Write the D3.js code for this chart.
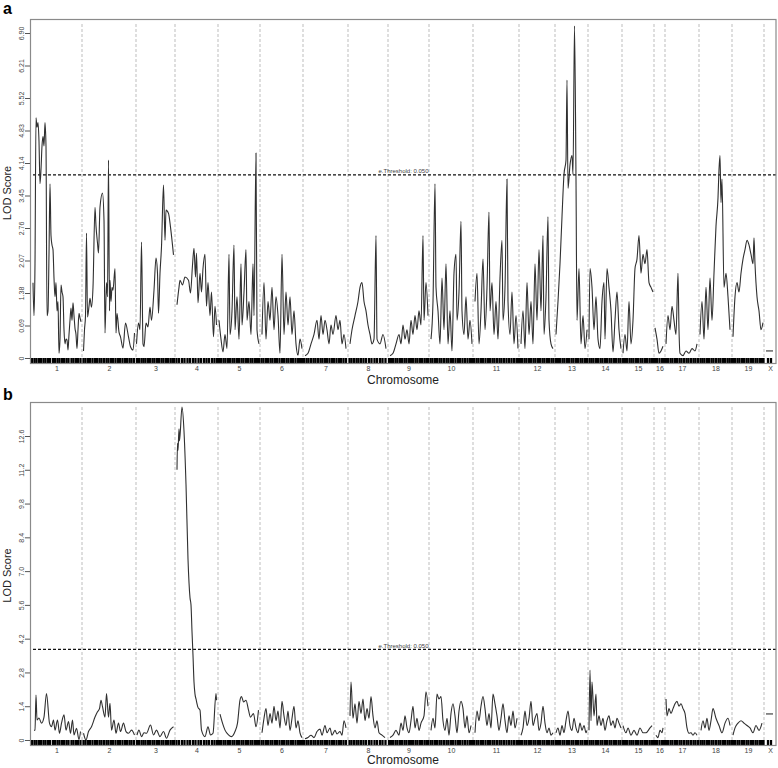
<!DOCTYPE html>
<html><head><meta charset="utf-8">
<script src="https://cdn.jsdelivr.net/npm/d3@7"></script>
<style>body{margin:0;background:#fff}svg{display:block}</style>
</head><body>
<svg id="chart" width="778" height="768"></svg>
<script>
// ---------- DATA ----------
const chrNames = ["1","2","3","4","5","6","7","8","9","10","11","12","13","14","15","16","17","18","19","X"];
const chrLengths = [102,108,78,86,84,86,90,80,82,88,92,72,66,68,64,22,68,66,64,24]; // cM

const markers = [
 [2,7,11,16,20,25,29,34,38,44,48,53,57,62,66,71,75,81,85,90,94,99],
 [3,7,12,16,21,26,30,35,39,44,49,53,58,62,67,72,76,81,86,90,95,99,104],
 [2,6,11,15,19,24,28,33,37,42,46,51,55,60,64,69,73,76],
 [3,8,14,19,25,30,36,41,47,52,58,63,68,74,79,84],
 [2,6,11,15,20,24,29,33,38,42,47,51,56,60,65,69,74,78,82],
 [3,7,12,16,21,25,30,34,39,44,48,53,57,62,66,71,76,80,84],
 [2,7,11,16,21,25,30,35,39,44,48,53,58,62,67,72,76,81,86],
 [3,7,12,17,21,26,31,36,42,47,53,58,64,69,75],
 [2,6,10,15,19,24,28,33,37,42,46,50,55,59,64,68,73,77,80],
 [3,7,12,16,21,25,30,35,39,44,48,53,58,62,67,72,77,82,86],
 [2,7,11,16,20,25,30,34,39,43,48,53,57,62,67,72,77,82,87,90],
 [2,6,11,15,20,24,29,33,38,42,47,51,56,60,65,69],
 [2,6,10,15,19,24,28,33,37,42,46,51,55,60,64],
 [3,7,11,16,20,25,29,34,38,43,47,52,56,61,65],
 [2,6,10,15,19,23,28,32,37,41,46,50,55,59,62],
 [2,6,11,16,20],
 [2,6,11,15,20,24,29,33,38,43,47,52,57,61,66],
 [3,7,11,16,20,25,29,34,39,43,48,52,57,61,65],
 [2,6,11,15,20,24,29,33,38,42,47,51,56,60,63],
 [8,14]
];

// Panel a: [position within chromosome (cM), LOD]
const lodA = [
 [[4,1.6],[6,0.9],[8,2.0],[10,5.1],[12,4.9],[14,5.0],[16,4.6],[18,3.7],[20,4.0],[22,4.5],[24,4.7],[26,4.5],[28,5.0],[30,4.5],[32,0.9],[34,1.0],[36,2.2],[38,3.7],[40,2.6],[42,2.4],[44,2.3],[46,1.7],[48,1.3],[50,1.6],[52,1.0],[54,1.2],[56,0.1],[58,0.4],[60,1.55],[62,1.4],[64,1.3],[66,0.6],[68,0.3],[70,0.4],[72,0.38],[74,0.17],[76,0.5],[78,0.8],[80,1.06],[82,0.8],[84,1.17],[86,0.9],[88,0.63],[90,0.5],[92,0.2],[94,0.6],[96,0.95],[98,0.85],[100,0.77]],
 [[3,0.15],[5,0.6],[7,0.9],[9,2.65],[11,0.87],[14,1.1],[16,1.27],[19,1.08],[22,1.5],[26,3.2],[28,2.8],[31,2.44],[33,2.23],[36,3.2],[41,3.5],[44,2.93],[46,0.53],[49,1.6],[51,1.3],[53,4.2],[55,1.0],[56,1.65],[58,1.2],[60,1.5],[62,1.44],[66,1.9],[68,0.53],[70,0.95],[74,0.55],[77,0.45],[82,0.21],[87,0.74],[93,0.45],[97,0.24],[102,0.17],[105,0.53]],
 [[1,0.3],[5,0.74],[8,0.6],[11,2.46],[14,0.3],[16,0.24],[20,0.74],[24,0.66],[28,1.08],[31,0.8],[36,1.44],[40,2.12],[43,1.8],[45,0.95],[48,1.8],[51,2.36],[55,3.67],[58,2.5],[60,3.14],[65,3.07],[69,2.78],[75,2.19]],
 [[4,1.13],[8,1.5],[10,1.65],[15,1.55],[20,1.72],[27,1.65],[31,1.38],[35,1.97],[38,2.33],[41,1.72],[43,2.23],[46,1.17],[50,1.8],[53,1.4],[56,1.9],[60,2.2],[63,1.1],[66,1.6],[70,0.9],[73,1.4],[77,0.45],[80,1.1],[83,0.7]],
 [[2,0.8],[6,0.4],[10,0.13],[14,0.5],[18,0.2],[22,2.2],[24,0.5],[28,1.0],[32,2.4],[34,0.6],[38,1.3],[42,0.4],[46,2.0],[48,0.7],[52,1.4],[56,2.3],[58,0.8],[62,1.2],[66,0.5],[70,2.0],[72,0.9],[76,4.35],[78,0.6],[82,0.3]],
 [[4,0.5],[8,1.6],[12,0.4],[16,1.2],[20,0.8],[24,1.5],[28,0.6],[32,1.3],[36,0.9],[40,0.1],[44,2.2],[48,0.5],[52,1.4],[56,0.7],[60,1.3],[64,0.5],[68,1.0],[72,0.3],[76,0.06],[80,0.4],[84,0.2]],
 [[4,0.05],[10,0.1],[16,0.3],[22,0.5],[28,0.8],[32,0.4],[36,0.9],[40,0.5],[44,0.8],[48,0.6],[52,0.3],[56,0.7],[60,0.5],[66,0.9],[70,0.6],[74,0.8],[78,0.3],[82,0.5],[86,0.2]],
 [[4,0.3],[8,0.6],[14,0.9],[20,1.2],[24,1.5],[28,1.6],[32,1.2],[36,1.0],[40,0.7],[44,0.5],[48,0.3],[52,0.4],[56,2.6],[58,0.4],[64,0.3],[70,0.5],[76,0.2]],
 [[4,0.05],[10,0.1],[16,0.3],[22,0.5],[26,0.3],[30,0.7],[34,0.4],[38,0.6],[42,0.3],[46,0.8],[50,0.5],[54,0.9],[58,0.6],[62,1.0],[66,0.7],[70,2.6],[72,0.8],[76,1.6],[80,0.9]],
 [[4,0.4],[8,1.2],[12,3.7],[14,1.5],[18,1.0],[22,0.3],[26,1.7],[30,0.6],[34,2.0],[38,0.3],[42,1.0],[46,0.15],[50,1.8],[54,2.2],[56,0.8],[60,1.4],[64,2.9],[66,1.0],[70,0.5],[74,1.3],[78,0.4],[82,0.8],[86,0.3]],
 [[4,1.2],[8,1.8],[12,0.3],[16,1.0],[20,2.1],[24,0.6],[28,1.5],[32,3.1],[34,1.0],[38,1.6],[42,0.5],[46,1.2],[50,0.4],[54,1.7],[58,2.5],[60,0.8],[64,1.5],[68,3.8],[70,1.2],[74,0.5],[78,1.4],[82,0.3],[86,0.9],[90,0.2]],
 [[4,0.3],[8,1.0],[12,0.2],[16,1.6],[20,0.5],[24,1.2],[28,0.3],[32,2.0],[36,0.8],[40,2.3],[44,1.0],[48,2.6],[50,0.5],[54,1.3],[58,3.0],[60,0.8],[64,0.3],[68,0.2]],
 [[2,0.5],[6,1.2],[10,2.0],[14,3.0],[18,3.9],[22,4.2],[24,5.9],[26,3.6],[30,4.1],[34,4.3],[36,3.9],[39,7.05],[42,3.8],[44,0.8],[48,1.9],[52,0.3],[56,0.9],[60,0.2],[64,0.6]],
 [[2,0.4],[4,1.9],[8,1.5],[12,0.6],[16,1.3],[20,0.4],[24,0.2],[28,1.2],[32,1.6],[34,0.4],[38,1.9],[42,1.5],[46,1.0],[50,0.13],[54,0.8],[58,1.4],[62,0.6],[66,0.2]],
 [[2,0.1],[6,0.5],[10,0.15],[14,1.2],[18,0.3],[22,0.8],[26,1.9],[30,2.1],[34,2.6],[38,1.8],[42,2.2],[46,2.0],[50,2.3],[54,1.6],[58,1.5],[62,1.4]],
 [[2,0.64],[6,0.4],[10,0.1],[14,0.15],[18,0.25]],
 [[2,0.3],[6,0.9],[10,0.6],[14,1.1],[18,0.8],[22,0.5],[26,1.8],[28,0.6],[30,0.1],[36,0.05],[42,0.15],[48,0.1],[54,0.2],[60,0.15],[64,0.3]],
 [[2,0.5],[6,1.2],[10,0.4],[14,1.5],[18,0.6],[22,1.7],[26,0.8],[30,1.8],[34,2.8],[38,3.4],[40,4.0],[42,4.3],[44,3.3],[46,3.8],[50,1.5],[54,1.8],[58,1.3],[62,0.6]],
 [[2,0.45],[6,1.3],[10,1.6],[14,1.4],[18,1.8],[22,2.1],[26,2.3],[30,2.5],[34,2.4],[38,2.2],[42,2.0],[44,2.55],[46,2.0],[50,1.3],[54,1.0],[58,0.6],[62,0.75]],
 [[4,0.15],[18,0.15]]
];

// Panel b
const lodB = [
 [[6,0.4],[8,0.41],[10,1.86],[12,0.83],[16,0.91],[21,0.7],[26,0.95],[31,1.93],[37,0.7],[41,0.55],[45,0.83],[48,0.41],[53,0.83],[57,0.28],[61,0.7],[66,1.04],[70,0.41],[75,0.76],[79,0.28],[83,0.83],[86,0.21],[91,0.48],[96,0.02],[99,0.35]],
 [[3,0.28],[8,0.0],[13,0.35],[19,0.55],[26,0.95],[31,1.17],[35,1.3],[38,1.65],[41,1.38],[46,0.95],[49,1.93],[53,0.95],[56,1.52],[59,0.41],[64,0.83],[68,0.28],[73,0.7],[77,0.35],[83,0.7],[88,0.35],[93,0.28],[99,0.41],[105,0.21]],
 [[2,0.2],[6,0.41],[11,0.14],[16,0.3],[21,0.28],[29,0.62],[35,0.21],[41,0.41],[48,0.14],[55,0.35],[61,0.07],[68,0.41],[75,0.55]],
 [[4,11.2],[5,12.3],[6,12.0],[8,12.9],[9,12.4],[14,13.8],[18,12.8],[22,10.6],[26,7.5],[30,5.9],[32,5.6],[34,4.5],[36,3.5],[38,2.4],[40,1.9],[42,1.7],[46,1.35],[50,1.24],[53,0.41],[60,0.14],[66,0.55],[71,0.21],[76,0.28],[82,1.93],[83,1.65]],
 [[4,1.07],[9,0.7],[14,0.41],[21,0.21],[27,0.14],[34,0.35],[39,0.7],[44,1.65],[47,1.8],[51,1.58],[56,1.65],[61,1.24],[65,0.95],[71,1.1],[76,0.55],[81,1.24]],
 [[4,0.3],[8,0.9],[12,1.3],[16,0.6],[20,1.1],[24,0.7],[28,1.4],[32,0.8],[36,1.2],[40,0.5],[44,1.6],[48,1.0],[52,0.6],[56,1.2],[60,0.4],[64,0.9],[68,1.4],[72,0.5],[76,0.8],[80,0.3],[84,0.1]],
 [[4,0.05],[10,0.1],[16,0.2],[22,0.1],[28,0.35],[34,0.45],[38,0.2],[44,0.6],[48,0.3],[54,0.5],[58,0.2],[64,0.4],[68,0.25],[74,0.35],[78,0.2],[82,0.8],[86,0.5]],
 [[4,1.0],[6,2.4],[10,0.9],[14,1.5],[18,0.7],[22,1.6],[26,1.1],[30,1.7],[34,0.8],[38,1.3],[42,0.9],[46,1.8],[50,1.0],[54,0.5],[58,0.8],[62,0.3],[68,0.2],[74,0.1]],
 [[4,0.1],[10,0.2],[16,0.4],[22,0.2],[26,0.7],[30,0.4],[34,1.0],[38,0.5],[42,0.3],[46,0.8],[50,1.4],[54,0.5],[58,0.9],[62,0.4],[66,0.7],[72,1.0],[76,2.0],[80,1.4]],
 [[4,0.4],[8,0.9],[12,0.5],[16,1.9],[20,1.7],[24,1.8],[28,0.8],[32,0.4],[36,0.9],[40,0.2],[44,1.1],[48,1.5],[52,1.0],[56,0.3],[60,1.2],[64,1.6],[68,1.3],[72,0.5],[76,1.0],[80,0.3],[84,0.6]],
 [[4,0.3],[8,1.2],[12,0.8],[16,1.4],[20,1.8],[24,1.3],[28,0.6],[32,1.1],[36,0.5],[40,1.9],[44,1.5],[48,1.0],[52,0.4],[56,0.9],[60,1.5],[64,0.8],[68,0.3],[72,1.0],[76,0.6],[80,1.2],[84,0.5],[88,0.9]],
 [[4,0.2],[8,0.5],[12,1.2],[16,0.6],[20,0.9],[24,1.6],[28,0.6],[32,0.9],[36,1.1],[40,0.4],[44,0.7],[48,1.4],[52,0.7],[56,0.3],[60,0.5],[64,0.2],[68,0.3]],
 [[2,0.3],[6,0.5],[10,0.2],[14,0.6],[18,0.3],[22,0.8],[26,1.2],[30,0.6],[34,0.4],[38,0.9],[42,0.5],[46,0.3],[50,0.7],[54,0.4],[58,0.6],[62,0.3],[64,0.4]],
 [[2,0.4],[4,2.9],[6,0.8],[8,2.4],[12,1.0],[16,1.9],[18,0.6],[22,1.0],[26,0.6],[30,0.9],[34,0.4],[38,0.8],[42,1.0],[46,0.6],[50,0.8],[54,0.5],[58,0.9],[62,0.7],[66,0.5]],
 [[2,0.6],[8,0.3],[12,0.5],[18,0.2],[24,0.4],[30,0.2],[36,0.5],[42,0.3],[48,0.3],[56,0.5],[60,0.6]],
 [[4,0.2],[8,0.1],[12,0.4],[16,0.3],[18,0.5]],
 [[2,1.7],[4,1.0],[8,1.3],[12,1.1],[16,1.3],[20,1.5],[24,1.6],[28,1.4],[32,1.5],[36,1.3],[40,1.1],[44,0.5],[48,0.28],[52,0.3],[56,0.2],[60,0.3],[64,0.2]],
 [[4,0.4],[8,0.8],[12,0.5],[16,0.9],[20,0.4],[24,0.8],[28,1.3],[34,0.9],[40,0.6],[46,0.3],[52,0.7],[58,0.9],[62,0.6]],
 [[2,0.2],[6,0.5],[12,0.7],[18,0.8],[24,0.7],[30,0.6],[36,0.5],[42,0.3],[48,0.6],[54,0.4],[60,0.7]],
 [[4,1.08],[18,1.08]]
];

const yTicksA = [0,0.69,1.38,2.07,2.76,3.45,4.14,4.83,5.52,6.21,6.90];
const yTicksB = [0,1.4,2.8,4.2,5.6,7.0,8.4,9.8,11.2,12.6];
const thresholdA = 3.89;
const thresholdB = 3.76;
const thresholdLabel = "e.Threshold: 0.050";
const panelTags = ["a","b"];

// ---------- DRAW ----------
const FONT = "'Liberation Sans', Arial, Helvetica, sans-serif";
const svg = d3.select("#chart");
const offsets = [0, ...d3.cumsum(chrLengths)];
const total = d3.sum(chrLengths);
const x = d3.scaleLinear().domain([0, total]).range([31, 776]);

const panels = [
  {tag: panelTags[0], lod: lodA, ticks: yTicksA, fmt: d => d === 0 ? "0" : d3.format(".2f")(d),
   thr: thresholdA, boxTop: 19, boxBottom: 363, zeroY: 358, topY: 33, tagY: 14, titleY: 384},
  {tag: panelTags[1], lod: lodB, ticks: yTicksB, fmt: d => d === 0 ? "0" : d3.format(".1f")(d),
   thr: thresholdB, boxTop: 402, boxBottom: 745, zeroY: 740, topY: 436, tagY: 400, titleY: 764}
];

panels.forEach(p => {
  const g = svg.append("g");
  const y = d3.scaleLinear().domain([0, d3.max(p.ticks)]).range([p.zeroY, p.topY]);

  // chromosome separators
  g.selectAll("line.sep").data(offsets.slice(1, -1)).join("line")
    .attr("x1", d => x(d)).attr("x2", d => x(d))
    .attr("y1", p.boxTop + 5).attr("y2", p.zeroY)
    .attr("stroke", "#bdbdbd").attr("stroke-width", 1).attr("stroke-dasharray", "3,2");

  // threshold
  g.append("line")
    .attr("x1", 33).attr("x2", 776).attr("y1", y(p.thr)).attr("y2", y(p.thr))
    .attr("stroke", "#111").attr("stroke-width", 1.3).attr("stroke-dasharray", "3,2");
  g.append("text").text(thresholdLabel)
    .attr("x", (31 + 776) / 2).attr("y", y(p.thr) - 1.5)
    .attr("text-anchor", "middle").attr("font-family", FONT).attr("font-size", 6)
    .attr("fill", "#444");

  // LOD curves
  const line = d3.line().curve(d3.curveMonotoneX);
  p.lod.forEach((pts, i) => {
    g.append("path")
      .attr("d", line(pts.map(d => [x(offsets[i] + d[0]), y(d[1])])))
      .attr("fill", "none").attr("stroke", "#303030").attr("stroke-width", 1.1)
      .attr("stroke-linejoin", "round");
  });

  // marker rug
  markers.forEach((ms, i) => {
    g.selectAll(null).data(ms).join("line")
      .attr("x1", d => x(offsets[i] + d)).attr("x2", d => x(offsets[i] + d))
      .attr("y1", p.zeroY).attr("y2", p.boxBottom)
      .attr("stroke", "#000").attr("stroke-width", 2.3);
  });

  // box
  g.append("rect")
    .attr("x", 30.5).attr("y", p.boxTop + 0.5)
    .attr("width", 776 - 30.5).attr("height", p.boxBottom - p.boxTop)
    .attr("fill", "none").attr("stroke", "#8a8a8a").attr("stroke-width", 1.2);

  // y axis
  const ya = g.append("g").attr("transform", "translate(30,0)")
    .call(d3.axisLeft(y).tickValues(p.ticks).tickSize(5).tickFormat(p.fmt));
  ya.select(".domain").remove();
  ya.selectAll(".tick line").attr("stroke", "#555");
  ya.selectAll(".tick text")
    .attr("x", null).attr("dy", null)
    .attr("transform", "translate(-6,0) rotate(-90)")
    .attr("text-anchor", "middle")
    .attr("font-family", FONT).attr("font-size", 7).attr("fill", "#444");

  // x axis (chromosome names)
  const mids = chrNames.map((n, i) => offsets[i] + chrLengths[i] / 2);
  const xa = g.append("g").attr("transform", `translate(0,${p.boxBottom})`)
    .call(d3.axisBottom(x).tickValues(mids).tickSize(0).tickPadding(3)
      .tickFormat((d, i) => chrNames[i]));
  xa.select(".domain").remove();
  xa.selectAll(".tick text").attr("font-family", FONT).attr("font-size", 7).attr("fill", "#444");

  // titles
  g.append("text").text("Chromosome")
    .attr("x", 403).attr("y", p.titleY)
    .attr("text-anchor", "middle").attr("font-family", FONT).attr("font-size", 12).attr("fill", "#222");
  g.append("text").text("LOD Score")
    .attr("transform", `translate(11,${(p.boxTop + p.boxBottom) / 2 + 2}) rotate(-90)`)
    .attr("text-anchor", "middle").attr("font-family", FONT).attr("font-size", 11).attr("fill", "#222");
  g.append("text").text(p.tag)
    .attr("x", 3).attr("y", p.tagY)
    .attr("font-family", FONT).attr("font-size", 16).attr("font-weight", "bold").attr("fill", "#000");
});
</script>
</body></html>
